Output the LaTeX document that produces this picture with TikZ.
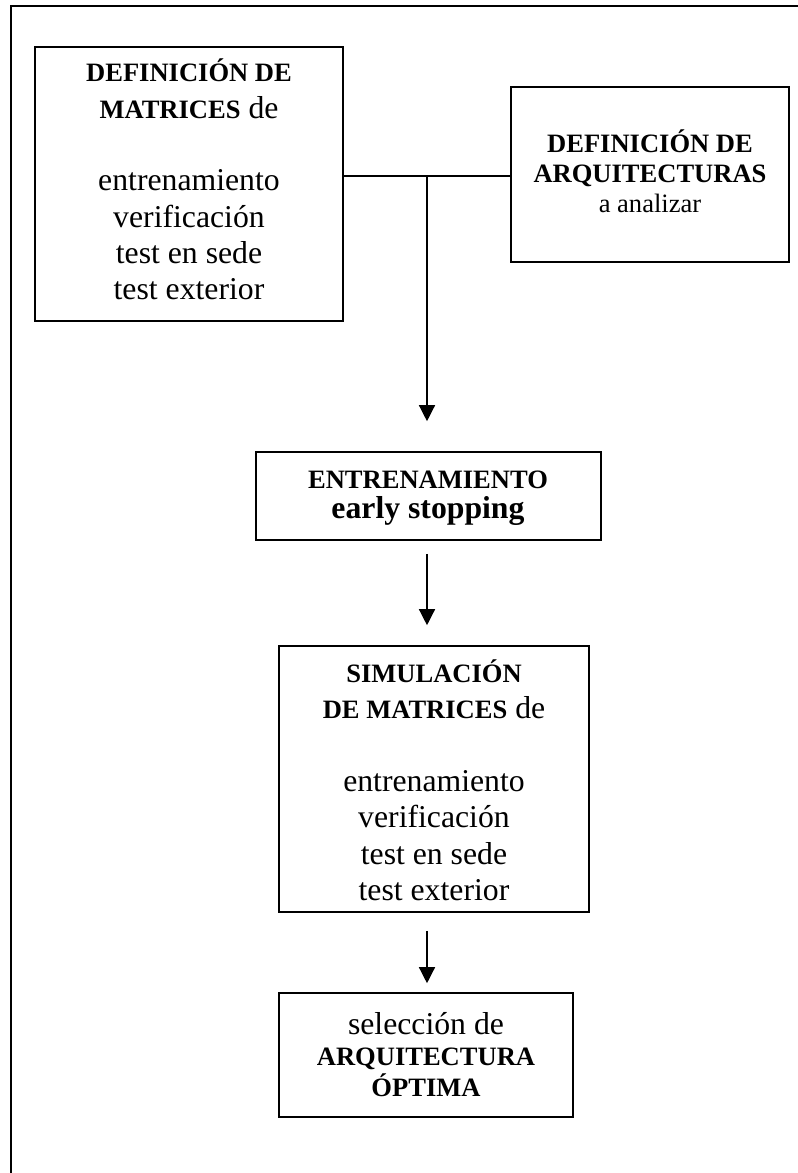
\documentclass[tikz,border=0pt]{standalone}
\usepackage{fontspec}
\setmainfont{Liberation Serif}
\usetikzlibrary{arrows.meta,fit}

% centred stack of lines with a fixed distance between baselines
\newcommand\linestack[2]{\vtop{\baselineskip=#1\lineskiplimit=-100pt\lineskip=0pt\halign{\hfil##\hfil\cr#2\crcr}}}
\newcommand\reg{\fontsize{23.8pt}{27pt}\selectfont\mdseries}
\newcommand\hdr{\fontsize{19.9pt}{24pt}\selectfont\bfseries}
\newcommand\sml{\fontsize{19.9pt}{24pt}\selectfont\mdseries}

\tikzset{
  frame/.style={line width=1.5pt},
  box/.style={draw, line width=1.2pt, inner sep=0pt, fill=none},
  txt/.style={inner sep=0pt, anchor=base},
  link/.style={line width=1pt},
  arrow/.style={line width=1pt, -{Triangle[length=12pt,width=12pt]}}
}

\begin{document}
\begin{tikzpicture}[x=0.75pt, y=-0.75pt]
  \useasboundingbox (0,0) rectangle (798,1173);

  % page frame
  \draw[frame] (11,1190) -- (11,6.5) -- (815,6.5);

  % boxes
  \node[box, fit={(35,47) (343,321)}] (b1) {};
  \node[box, fit={(511,87) (789,262)}] (b2) {};
  \node[box, fit={(256,452) (601,540)}] (b3) {};
  \node[box, fit={(279,646) (589,912)}] (b4) {};
  \node[box, fit={(279,993) (573,1117)}] (b5) {};

  % box texts
  \node[txt] (t1) at (189,82) {\linestack{27.2pt}{%
    \hdr DEFINICIÓN DE\cr
    \hdr MATRICES\reg{} de\cr
    \cr
    \reg entrenamiento\cr
    \reg verificación\cr
    \reg test en sede\cr
    \reg test exterior}};

  \node[txt] (t2) at (650,153) {\linestack{22.5pt}{%
    \hdr DEFINICIÓN DE\cr
    \hdr ARQUITECTURAS\cr
    \sml a analizar}};

  \node[txt] (t3) at (428,488) {\linestack{22.5pt}{%
    \hdr ENTRENAMIENTO\cr
    \fontsize{23.8pt}{27pt}\selectfont\bfseries early stopping}};

  \node[txt] (t4) at (434,682) {\linestack{27.3pt}{%
    \hdr SIMULACIÓN\cr
    \hdr DE MATRICES\reg{} de\cr
    \cr
    \reg entrenamiento\cr
    \reg verificación\cr
    \reg test en sede\cr
    \reg test exterior}};

  \node[txt] (t5) at (426,1034) {\linestack{23.6pt}{%
    \reg selección de\cr
    \hdr ARQUITECTURA\cr
    \hdr ÓPTIMA}};

  % connectors
  \coordinate (j) at (427,176);
  \draw[link] (b1.east |- j) -- (b2.west |- j);
  \draw[arrow, shorten >=22.5pt] (j) -- (j |- b3.north);
  \draw[arrow, shorten <=9.75pt, shorten >=15pt] (j |- b3.south) -- (j |- b4.north);
  \draw[arrow, shorten <=13.5pt, shorten >=6.75pt] (j |- b4.south) -- (j |- b5.north);
\end{tikzpicture}
\end{document}
